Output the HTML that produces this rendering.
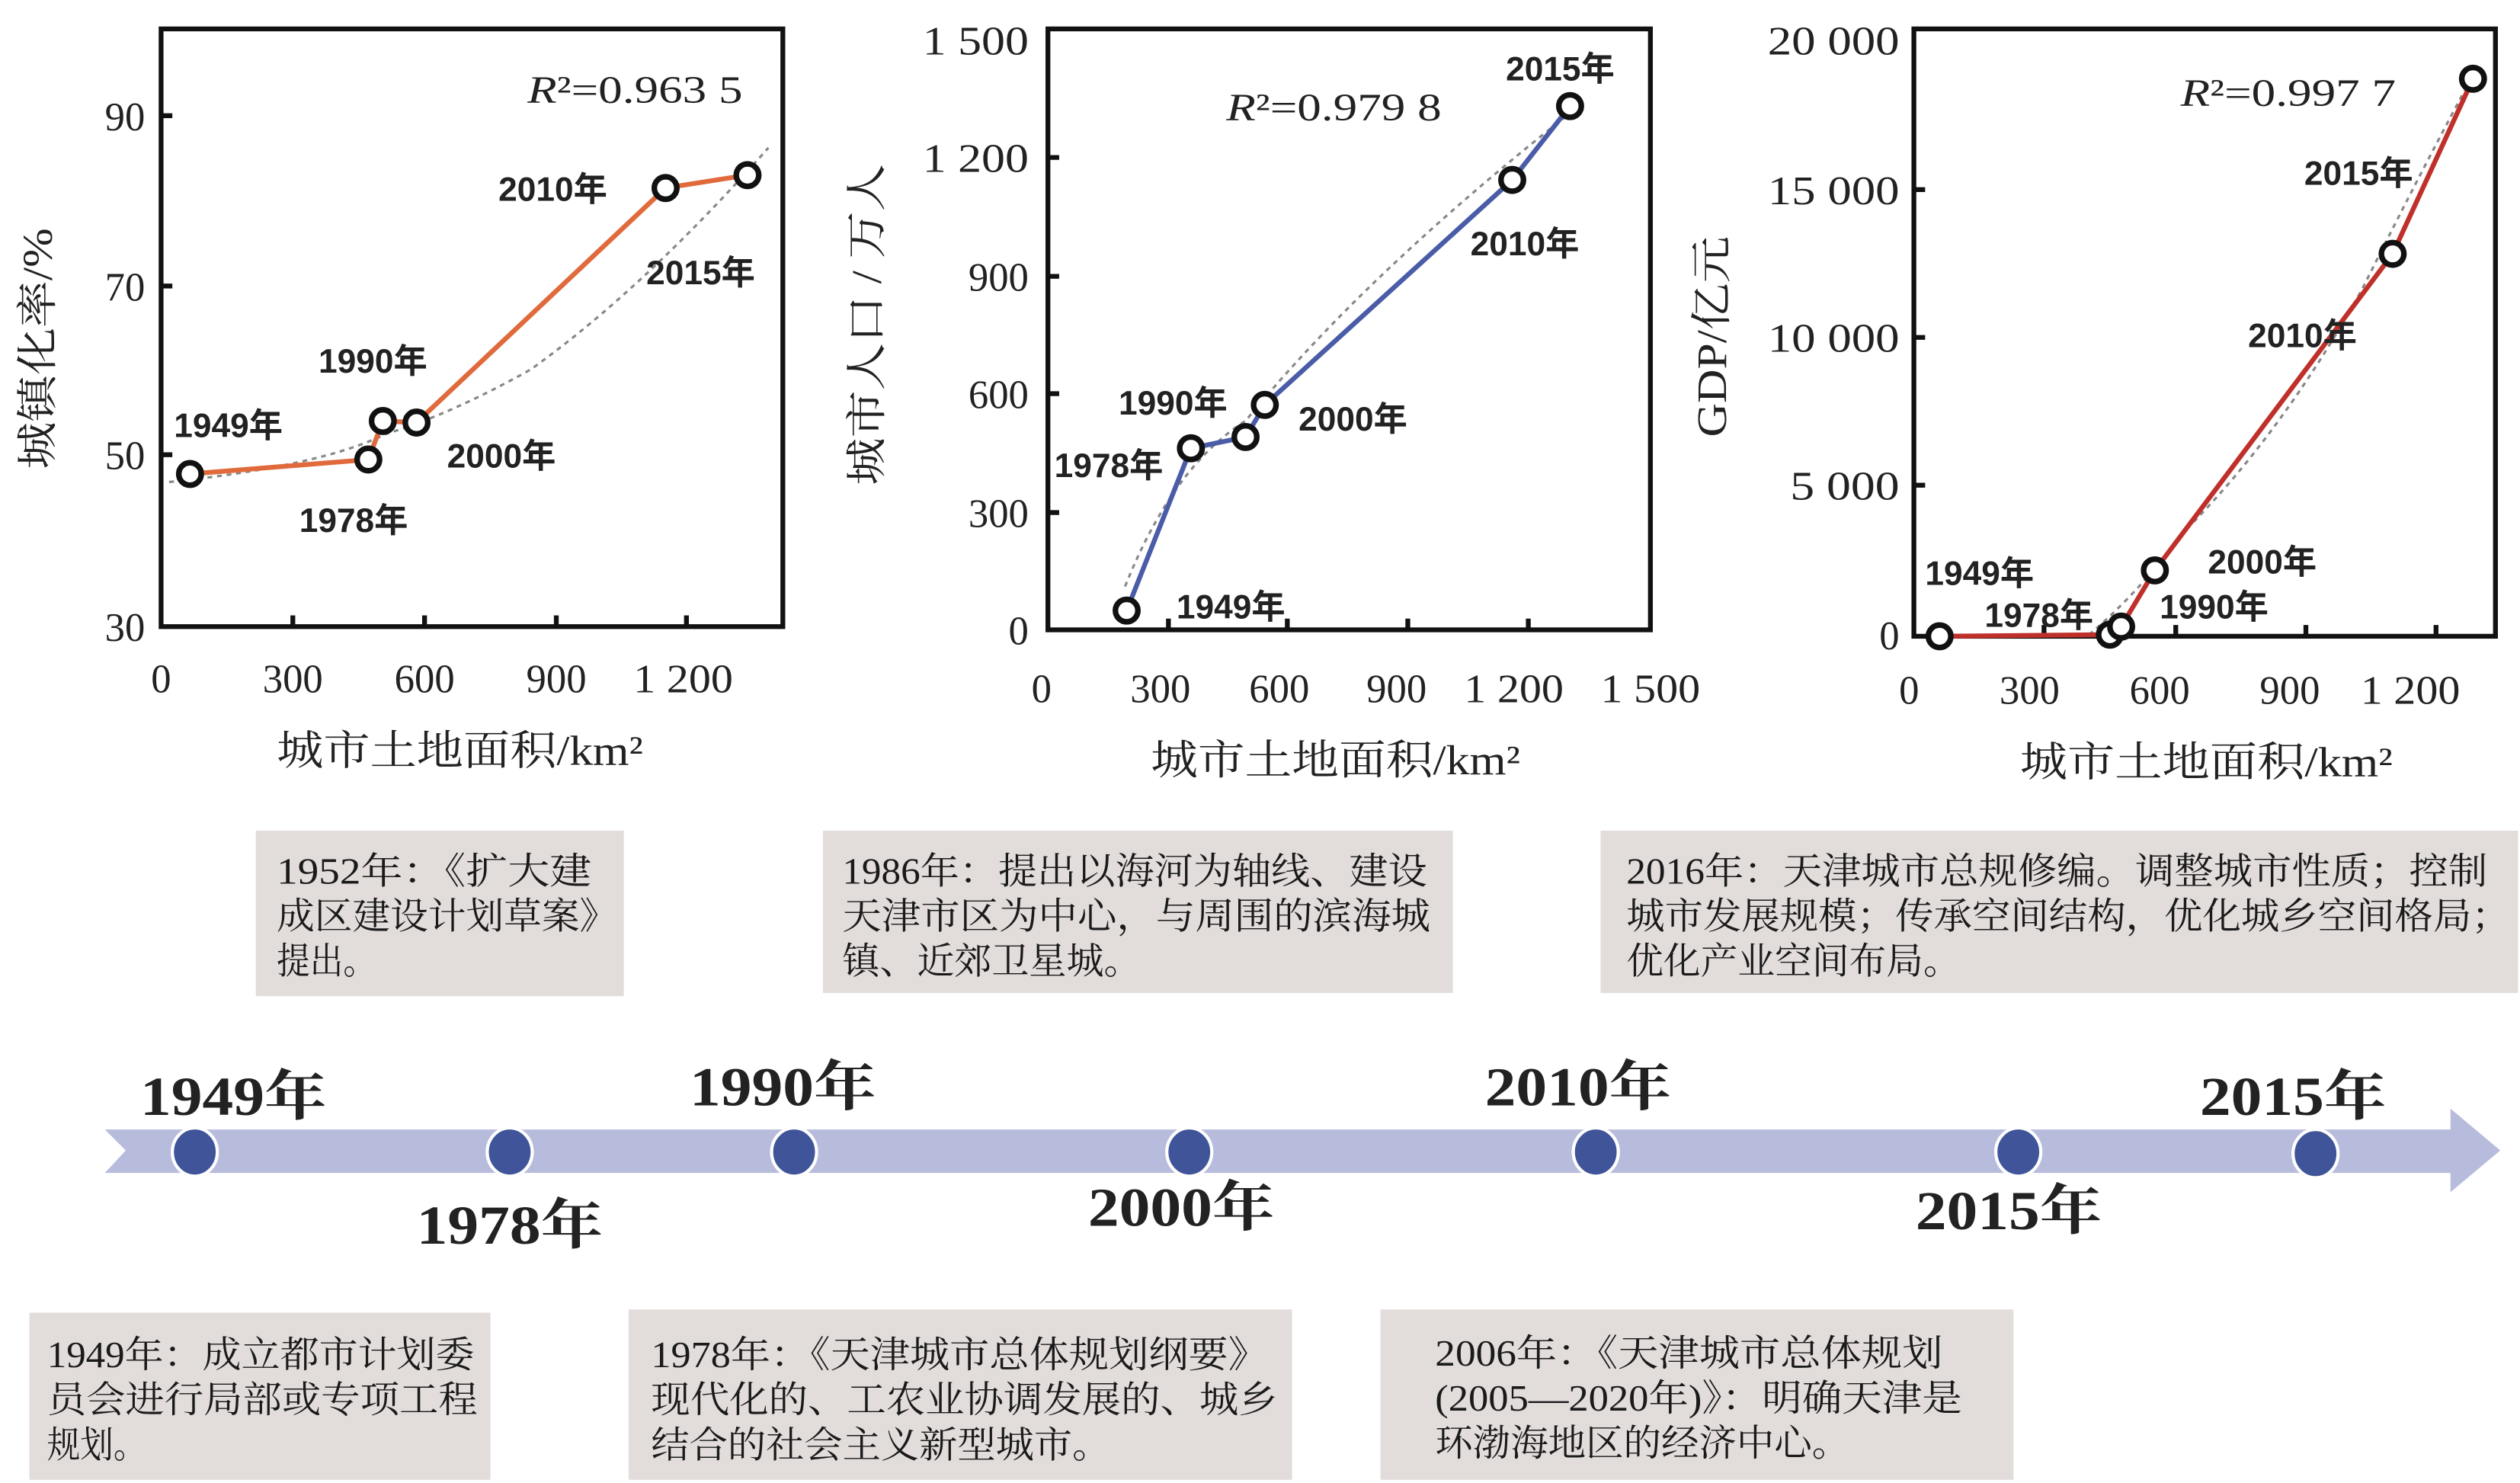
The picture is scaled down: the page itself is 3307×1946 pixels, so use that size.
<!DOCTYPE html>
<html><head><meta charset="utf-8"><style>
html,body{margin:0;padding:0;background:#fff}
svg{display:block}
.s{font-family:"Liberation Serif","Noto Serif CJK SC",serif;fill:#222}
.l{font-family:"Liberation Sans","Noto Sans CJK SC",sans-serif;font-weight:bold;fill:#222;font-size:21px}
.t{font-size:25px}
.b{font-family:"Liberation Serif","Noto Serif CJK SC",serif;fill:#1a1a1a;font-size:23px}
.y{font-family:"Liberation Serif","Noto Serif CJK SC",serif;font-weight:bold;fill:#222;font-size:34px}
</style></head><body>
<svg width="3307" height="1946" viewBox="0 0 1568 923" xmlns="http://www.w3.org/2000/svg">
<rect width="1568" height="923" fill="#fff"/>
<!-- Chart 1 -->
<g fill="none" stroke="#111" stroke-width="3">
<rect x="100" y="18" width="387" height="372"/>
<path d="M100 72h7M100 178h7M100 283h7M182 390v-7M264 390v-7M346 390v-7M427 390v-7"/>
</g>
<path d="M105 300 Q200 290 240 270 Q280 258 330 230 Q400 180 478 92" fill="none" stroke="#888" stroke-width="1.5" stroke-dasharray="3,3"/>
<polyline points="118,295 229,286 238,262 259,263 414,117 465,109" fill="none" stroke="#e06a3c" stroke-width="3"/>
<g fill="#fff" stroke="#111" stroke-width="3.5">
<circle cx="118" cy="295" r="7"/><circle cx="229" cy="286" r="7"/><circle cx="238" cy="262" r="7"/><circle cx="259" cy="263" r="7"/><circle cx="414" cy="117" r="7"/><circle cx="465" cy="109" r="7"/>
</g>
<g class="s t" text-anchor="end">
<text x="90" y="81">90</text><text x="90" y="187">70</text><text x="90" y="292">50</text><text x="90" y="399">30</text>
</g>
<g class="s t" text-anchor="middle">
<text x="100" y="431">0</text><text x="182" y="431">300</text><text x="264" y="431">600</text><text x="346" y="431">900</text><text x="425" y="431" textLength="62" lengthAdjust="spacingAndGlyphs">1 200</text>
</g>
<text class="s" font-size="26" x="172" y="476" textLength="228" lengthAdjust="spacingAndGlyphs">城市土地面积/km²</text>
<text class="s" font-size="26" transform="translate(32,292) rotate(-90)" textLength="150" lengthAdjust="spacingAndGlyphs">城镇化率/%</text>
<text class="s" font-size="24" x="328" y="64" textLength="134" lengthAdjust="spacingAndGlyphs"><tspan font-style="italic">R</tspan>²=0.963 5</text>
<g class="l">
<text x="108" y="272">1949年</text><text x="186" y="331">1978年</text><text x="198" y="232">1990年</text><text x="278" y="291">2000年</text><text x="310" y="125">2010年</text><text x="402" y="177">2015年</text>
</g>
<!-- Chart 2 -->
<g fill="none" stroke="#111" stroke-width="3">
<rect x="652" y="18" width="375" height="374"/>
<path d="M652 98h7M652 172h7M652 245h7M652 319h7M727 392v-7M801 392v-7M876 392v-7M951 392v-7"/>
</g>
<path d="M700 365 Q730 290 775 262 Q850 170 980 68" fill="none" stroke="#888" stroke-width="1.5" stroke-dasharray="3,3"/>
<polyline points="701,380 741,279 775,272 787,252 941,112 977,66" fill="none" stroke="#4a5ca8" stroke-width="3"/>
<g fill="#fff" stroke="#111" stroke-width="3.5">
<circle cx="701" cy="380" r="7"/><circle cx="741" cy="279" r="7"/><circle cx="775" cy="272" r="7"/><circle cx="787" cy="252" r="7"/><circle cx="941" cy="112" r="7"/><circle cx="977" cy="66" r="7"/>
</g>
<g class="s t" text-anchor="end">
<text x="640" y="34" textLength="66" lengthAdjust="spacingAndGlyphs">1 500</text><text x="640" y="107" textLength="66" lengthAdjust="spacingAndGlyphs">1 200</text><text x="640" y="181">900</text><text x="640" y="254">600</text><text x="640" y="328">300</text><text x="640" y="401">0</text>
</g>
<g class="s t" text-anchor="middle">
<text x="648" y="437">0</text><text x="722" y="437">300</text><text x="796" y="437">600</text><text x="869" y="437">900</text><text x="942" y="437" textLength="62" lengthAdjust="spacingAndGlyphs">1 200</text><text x="1027" y="437" textLength="62" lengthAdjust="spacingAndGlyphs">1 500</text>
</g>
<text class="s" font-size="26" x="716" y="482" textLength="230" lengthAdjust="spacingAndGlyphs">城市土地面积/km²</text>
<text class="s" font-size="26" transform="translate(548,302) rotate(-90)" textLength="200" lengthAdjust="spacingAndGlyphs">城市人口 / 万人</text>
<text class="s" font-size="24" x="763" y="75" textLength="134" lengthAdjust="spacingAndGlyphs"><tspan font-style="italic">R</tspan>²=0.979 8</text>
<g class="l">
<text x="732" y="385">1949年</text><text x="656" y="297">1978年</text><text x="696" y="258">1990年</text><text x="808" y="268">2000年</text><text x="915" y="159">2010年</text><text x="937" y="50">2015年</text>
</g>
<!-- Chart 3 -->
<g fill="none" stroke="#111" stroke-width="3">
<rect x="1191" y="18" width="362" height="378"/>
<path d="M1191 118h7M1191 210h7M1191 302h7M1272 396v-7M1354 396v-7M1435 396v-7M1516 396v-7"/>
</g>
<path d="M1300 395 Q1330 370 1360 330 Q1420 270 1470 180 Q1510 100 1540 45" fill="none" stroke="#888" stroke-width="1.5" stroke-dasharray="3,3"/>
<polyline points="1207,396 1313,395 1320,390 1341,355 1489,158 1539,49" fill="none" stroke="#c0302a" stroke-width="3"/>
<g fill="#fff" stroke="#111" stroke-width="3.5">
<circle cx="1207" cy="396" r="7"/><circle cx="1313" cy="395" r="7"/><circle cx="1320" cy="390" r="7"/><circle cx="1341" cy="355" r="7"/><circle cx="1489" cy="158" r="7"/><circle cx="1539" cy="49" r="7"/>
</g>
<g class="s t" text-anchor="end">
<text x="1182" y="34" textLength="82" lengthAdjust="spacingAndGlyphs">20 000</text><text x="1182" y="127" textLength="82" lengthAdjust="spacingAndGlyphs">15 000</text><text x="1182" y="219" textLength="82" lengthAdjust="spacingAndGlyphs">10 000</text><text x="1182" y="311" textLength="68" lengthAdjust="spacingAndGlyphs">5 000</text><text x="1182" y="404">0</text>
</g>
<g class="s t" text-anchor="middle">
<text x="1188" y="438">0</text><text x="1263" y="438">300</text><text x="1344" y="438">600</text><text x="1425" y="438">900</text><text x="1500" y="438" textLength="62" lengthAdjust="spacingAndGlyphs">1 200</text>
</g>
<text class="s" font-size="26" x="1257" y="483" textLength="232" lengthAdjust="spacingAndGlyphs">城市土地面积/km²</text>
<text class="s" font-size="26" transform="translate(1074,272) rotate(-90)" textLength="125" lengthAdjust="spacingAndGlyphs">GDP/亿元</text>
<text class="s" font-size="24" x="1357" y="66" textLength="134" lengthAdjust="spacingAndGlyphs"><tspan font-style="italic">R</tspan>²=0.997 7</text>
<g class="l">
<text x="1198" y="364">1949年</text><text x="1235" y="390">1978年</text><text x="1374" y="357">2000年</text><text x="1344" y="385">1990年</text><text x="1399" y="216">2010年</text><text x="1434" y="115">2015年</text>
</g>
<!-- Boxes -->
<g fill="#e2dcdb">
<rect x="159" y="517" width="229" height="103"/>
<rect x="512" y="517" width="392" height="101"/>
<rect x="996" y="517" width="571" height="101"/>
<rect x="18" y="817" width="287" height="104"/>
<rect x="391" y="815" width="413" height="106"/>
<rect x="859" y="815" width="394" height="106"/>
</g>
<g class="b" lengthAdjust="spacingAndGlyphs">
<text x="172" y="550" textLength="196" lengthAdjust="spacingAndGlyphs">1952年：《扩大建</text>
<text x="172" y="578" textLength="212" lengthAdjust="spacingAndGlyphs">成区建设计划草案》</text>
<text x="172" y="606" textLength="62" lengthAdjust="spacingAndGlyphs">提出。</text>
<text x="524" y="550" textLength="364" lengthAdjust="spacingAndGlyphs">1986年：提出以海河为轴线、建设</text>
<text x="524" y="578" textLength="366" lengthAdjust="spacingAndGlyphs">天津市区为中心，与周围的滨海城</text>
<text x="524" y="606" textLength="186" lengthAdjust="spacingAndGlyphs">镇、近郊卫星城。</text>
<text x="1012" y="550" textLength="536" lengthAdjust="spacingAndGlyphs">2016年：天津城市总规修编。调整城市性质；控制</text>
<text x="1012" y="578" textLength="550" lengthAdjust="spacingAndGlyphs">城市发展规模；传承空间结构，优化城乡空间格局；</text>
<text x="1012" y="606" textLength="208" lengthAdjust="spacingAndGlyphs">优化产业空间布局。</text>
<text x="29" y="851" textLength="266" lengthAdjust="spacingAndGlyphs">1949年：成立都市计划委</text>
<text x="29" y="879" textLength="268" lengthAdjust="spacingAndGlyphs">员会进行局部或专项工程</text>
<text x="29" y="907" textLength="62" lengthAdjust="spacingAndGlyphs">规划。</text>
<text x="405" y="851" textLength="384" lengthAdjust="spacingAndGlyphs">1978年：《天津城市总体规划纲要》</text>
<text x="405" y="879" textLength="390" lengthAdjust="spacingAndGlyphs">现代化的、工农业协调发展的、城乡</text>
<text x="405" y="907" textLength="286" lengthAdjust="spacingAndGlyphs">结合的社会主义新型城市。</text>
<text x="893" y="850" textLength="316" lengthAdjust="spacingAndGlyphs">2006年：《天津城市总体规划</text>
<text x="893" y="878" textLength="328" lengthAdjust="spacingAndGlyphs">(2005—2020年)》：明确天津是</text>
<text x="893" y="906" textLength="258" lengthAdjust="spacingAndGlyphs">环渤海地区的经济中心。</text>
</g>
<!-- Timeline -->
<path d="M65 703 H1525 V690 L1556 716 L1525 742 V730 H65 L78 716 Z" fill="#b7bcdc"/>
<g fill="#3f5499" stroke="#fff" stroke-width="2">
<ellipse cx="121" cy="717" rx="14" ry="15"/><ellipse cx="317" cy="717" rx="14" ry="15"/><ellipse cx="494" cy="717" rx="14" ry="15"/><ellipse cx="740" cy="717" rx="14" ry="15"/><ellipse cx="993" cy="717" rx="14" ry="15"/><ellipse cx="1256" cy="717" rx="14" ry="15"/><ellipse cx="1441" cy="718" rx="14" ry="15"/>
</g>
<g class="y" text-anchor="middle">
<text x="145" y="694" textLength="116" lengthAdjust="spacingAndGlyphs">1949年</text>
<text x="487" y="688" textLength="116" lengthAdjust="spacingAndGlyphs">1990年</text>
<text x="982" y="688" textLength="116" lengthAdjust="spacingAndGlyphs">2010年</text>
<text x="1427" y="694" textLength="116" lengthAdjust="spacingAndGlyphs">2015年</text>
<text x="317" y="774" textLength="116" lengthAdjust="spacingAndGlyphs">1978年</text>
<text x="735" y="763" textLength="116" lengthAdjust="spacingAndGlyphs">2000年</text>
<text x="1250" y="765" textLength="116" lengthAdjust="spacingAndGlyphs">2015年</text>
</g>
</svg>
</body></html>
